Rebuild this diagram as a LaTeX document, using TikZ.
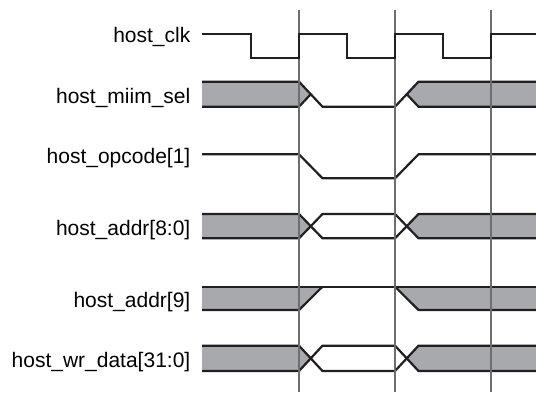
\documentclass[tikz,border=0pt]{standalone}
\usepackage{fontspec}
\setmainfont{Liberation Sans}
\definecolor{busgrey}{HTML}{A7A9AC}
\definecolor{gridgrey}{HTML}{6D6E71}
\definecolor{wavecol}{HTML}{231F20}
\tikzset{
  wave/.style={draw=wavecol, line width=2.2pt, line join=miter},
  busfill/.style={fill=busgrey},
  gridline/.style={draw=gridgrey, line width=1.1pt},
  siglabel/.style={anchor=base east, inner sep=0pt, font=\fontsize{21}{21}\selectfont}
}
\begin{document}
\begin{tikzpicture}[x=1pt,y=-1pt]
\useasboundingbox (0,0) rectangle (536,392);
% labels
\node[siglabel] (lclk) at (190.5,42.7) {host\_clk};
\node[siglabel] (lsel) at (190.5,103.2) {host\_miim\_sel};
\node[siglabel] (lopc) at (190.5,163.3) {host\_opcode[1]};
\node[siglabel] (laddr) at (190.5,235.2) {host\_addr[8:0]};
\node[siglabel] (laddrnine) at (190.5,307.3) {host\_addr[9]};
\node[siglabel] (ldata) at (190.5,367.3) {host\_wr\_data[31:0]};
% host_miim_sel
\fill[busfill] (202,81.7)--(299,81.7)--(310.75,94.2)--(299,106.7)--(202,106.7)--cycle;
\fill[busfill] (406.75,94.2)--(418.5,81.7)--(536,81.7)--(536,106.7)--(418.5,106.7)--cycle;
\draw[wave] (202,81.7)--(299,81.7)--(322.5,106.7)--(395,106.7)--(418.5,81.7)--(536,81.7);
\draw[wave] (202,106.7)--(299,106.7)--(310.75,94.2);
\draw[wave] (406.75,94.2)--(418.5,106.7)--(536,106.7);
% host_opcode[1]
\draw[wave] (202,154.3)--(299,154.3)--(322.5,178.3)--(395,178.3)--(418.5,154.3)--(536,154.3);
% host_addr[8:0]
\fill[busfill] (202,214)--(299,214)--(310.75,226.2)--(299,238.3)--(202,238.3)--cycle;
\fill[busfill] (406.75,226.2)--(418.5,214)--(536,214)--(536,238.3)--(418.5,238.3)--cycle;
\draw[wave] (202,214)--(299,214)--(322.5,238.3)--(395,238.3)--(418.5,214)--(536,214);
\draw[wave] (202,238.3)--(299,238.3)--(322.5,214)--(395,214)--(418.5,238.3)--(536,238.3);
% host_addr[9]
\fill[busfill] (202,286.7)--(322.5,286.7)--(299,310)--(202,310)--cycle;
\fill[busfill] (395,286.7)--(536,286.7)--(536,310)--(418.5,310)--cycle;
\draw[wave] (202,286.7)--(536,286.7);
\draw[wave] (395,286.7)--(418.5,310)--(536,310);
\draw[wave] (202,310)--(299,310)--(322.5,286.7);
% host_wr_data[31:0]
\fill[busfill] (202,345.7)--(299,345.7)--(310.75,358.3)--(299,371)--(202,371)--cycle;
\fill[busfill] (406.75,358.3)--(418.5,345.7)--(536,345.7)--(536,371)--(418.5,371)--cycle;
\draw[wave] (202,345.7)--(299,345.7)--(322.5,371)--(395,371)--(418.5,345.7)--(536,345.7);
\draw[wave] (202,371)--(299,371)--(322.5,345.7)--(395,345.7)--(418.5,371)--(536,371);
% clock edges
\foreach \x in {299,395,491}
  \draw[gridline] (\x,10)--(\x,392);
% host_clk
\draw[wave] (202,33.7)--(251,33.7)--(251,58)--(299,58)--(299,33.7)--(347,33.7)--(347,58)
  --(395,58)--(395,33.7)--(443,33.7)--(443,58)--(491,58)--(491,33.7)--(536,33.7);
\end{tikzpicture}
\end{document}
